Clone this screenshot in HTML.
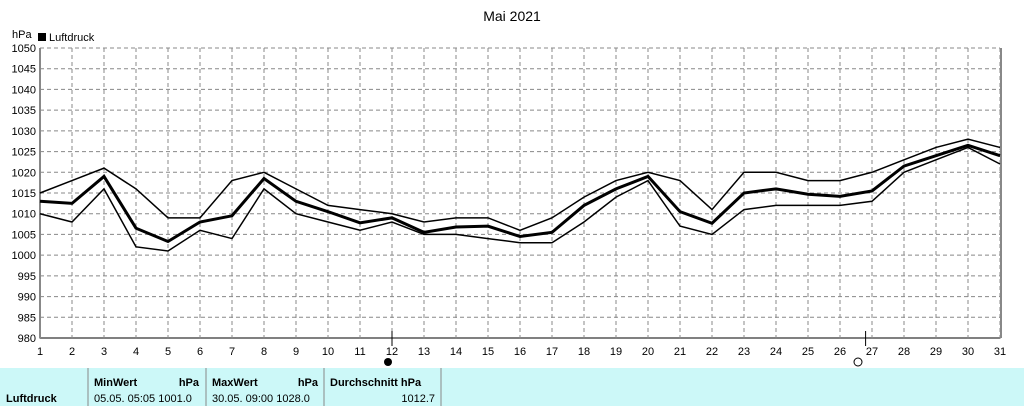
<!DOCTYPE html>
<html><head><meta charset="utf-8"><style>
body{margin:0;width:1024px;height:406px;background:#fff;font-family:"Liberation Sans",sans-serif;overflow:hidden}
svg text{font-family:"Liberation Sans",sans-serif}
</style></head><body>
<svg id="c" width="1024" height="406">
<text x="512" y="21" font-size="14" text-anchor="middle">Mai 2021</text>
<text x="12" y="38" font-size="11">hPa</text>
<rect x="38" y="33" width="8" height="8" fill="#000"/>
<text x="49" y="41" font-size="11">Luftdruck</text>
<g id="grid"></g><g id="series"></g>
<rect x="0" y="368" width="1024" height="38" fill="#ccf8f8"/>
<g font-size="11" fill="#000">
<text x="6" y="402" font-weight="bold">Luftdruck</text>
<line x1="88" y1="368" x2="88" y2="406" stroke="#888"/><line x1="206" y1="368" x2="206" y2="406" stroke="#888"/>
<line x1="324" y1="368" x2="324" y2="406" stroke="#888"/><line x1="441" y1="368" x2="441" y2="406" stroke="#888"/>
<text x="94" y="386" font-weight="bold">MinWert</text><text x="199" y="386" font-weight="bold" text-anchor="end">hPa</text>
<text x="94" y="402">05.05.  05:05  1001.0</text>
<text x="212" y="386" font-weight="bold">MaxWert</text><text x="318" y="386" font-weight="bold" text-anchor="end">hPa</text>
<text x="212" y="402">30.05.  09:00  1028.0</text>
<text x="330" y="386" font-weight="bold">Durchschnitt   hPa</text>
<text x="435" y="402" text-anchor="end">1012.7</text>
</g>
<circle cx="388" cy="362" r="4" fill="#000"/>
<circle cx="858" cy="362" r="4" fill="none" stroke="#000"/>
</svg>
<script>
const days=[1,2,3,4,5,6,7,8,9,10,11,12,13,14,15,16,17,18,19,20,21,22,23,24,25,26,27,28,29,30,31];
const yTicks=[980,985,990,995,1000,1005,1010,1015,1020,1025,1030,1035,1040,1045,1050];
const maxVals=[1015,1018,1021,1016,1009,1009,1018,1020,1016,1012,1011,1010,1008,1009,1009,1006,1009,1014,1018,1020,1018,1011,1020,1020,1018,1018,1020,1023,1026,1028,1026];
const avgVals=[1013,1012.5,1019,1006.5,1003.3,1008,1009.5,1018.5,1013,1010.5,1007.8,1009,1005.5,1006.8,1007,1004.5,1005.5,1012,1016,1019,1010.5,1007.7,1015,1016,1014.7,1014.2,1015.5,1021.5,1024,1026.5,1024];
const minVals=[1010,1008,1016,1002,1001,1006,1004,1016,1010,1008,1006,1008,1005,1005,1004,1003,1003,1008,1014,1018,1007,1005,1011,1012,1012,1012,1013,1020,1023,1026,1022];
const moonDays=[12,26.8];
const NS="http://www.w3.org/2000/svg";
const X=d=>40+(d-1)*32, Y=v=>338-(v-980)*290/70;
function mk(t,a,p){const e=document.createElementNS(NS,t);for(const k in a)e.setAttribute(k,a[k]);p.appendChild(e);return e;}
const g=document.getElementById('grid');
yTicks.forEach(v=>{
 const l=mk('line',{x1:40,x2:1000,y1:Y(v),y2:Y(v),stroke:v==980?'#000':'#888','stroke-dasharray':v==980?'':'4,3'},g);
 
 
 const t=mk('text',{x:36,y:Y(v)+4,'font-size':11,'text-anchor':'end'},g);t.textContent=v;
 
 
});
days.forEach(d=>{
 const l=mk('line',{x1:X(d),x2:X(d),y1:48,y2:342,stroke:'#888','stroke-dasharray':'4,3'},g);
 
 
 const t=mk('text',{x:X(d),y:355,'font-size':11,'text-anchor':'middle'},g);t.textContent=d;
 
 
});
mk('line',{x1:40,x2:40,y1:48,y2:338,stroke:'#888','stroke-width':2},g);
mk('line',{x1:1001,x2:1001,y1:48,y2:338,stroke:'#888','stroke-width':2},g);
moonDays.forEach(d=>{mk('line',{x1:X(d),x2:X(d),y1:331,y2:346,stroke:'#000'},g);});
const s=document.getElementById('series');
[[maxVals,1.5,'max-line'],[minVals,1.5,'min-line'],[avgVals,3,'avg-line']].forEach(([arr,w,n])=>{
 const p=mk('polyline',{points:arr.map((v,i)=>X(days[i])+','+Y(v)).join(' '),fill:'none',stroke:'#000','stroke-width':w},s);
 
 
});
</script>
</body></html>
